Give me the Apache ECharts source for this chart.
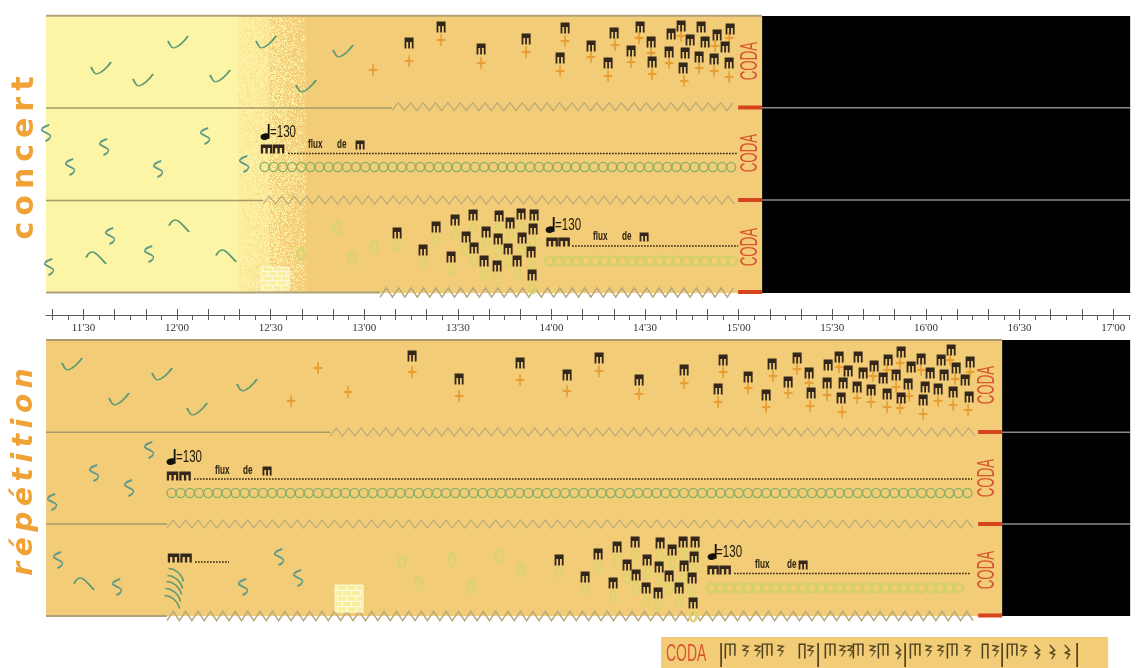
<!DOCTYPE html>
<html><head><meta charset="utf-8">
<style>html,body{margin:0;padding:0;background:#fff}#c{width:1142px;height:668px;filter:blur(0.5px)}</style>
<script src="https://cdn.jsdelivr.net/npm/echarts@6/dist/echarts.min.js"></script></head>
<body><div id="c"></div>
<script>
// x readings are score frames (1 frame = 1/3.12 s, frame 177 = 12'00); y readings are staff heights.
const sec = f => 720 + (f - 177) / 3.12;
const X_MIN = 678, X_MAX = 1025.4;

const majorTicks = [680,690,700,710,720,730,740,750,760,770,780,790,800,810,820,830,840,850,860,870,880,890,900,910,920,930,940,950,960,970,980,990,1000,1010,1020];
const minorTicks = [685,695,705,715,725,735,745,755,765,775,785,795,805,815,825,835,845,855,865,875,885,895,905,915,925,935,945,955,965,975,985,995,1005,1015,1025];
const tickLabels = [690,720,750,780,810,840,870,900,930,960,990,1020];

// concert
const concertChecks = [[178,42],[101,68],[143,80],[220,76],[266,42],[306,86],[343,51]];
const concertPlus = [[373,70],[409,61],[441,40],[481,63],[526,52],[565,41],[560,71],[591,57],[615,45],[608,76],[631,62],[639,38],[651,53],[652,74],[669,63],[681,36],[684,81],[699,68],[715,46],[714,71],[729,38],[729,77]];
const concertChords1 = [[409,43],[441,27],[481,49],[526,39],[565,28],[560,58],[591,46],[614,33],[608,63],[631,51],[640,27],[651,42],[652,62],[671,34],[669,52],[681,26],[690,40],[685,53],[683,68],[701,27],[705,42],[699,57],[717,35],[725,47],[714,59],[730,29],[729,63]];
const concertS2 = [[46,133],[104,147],[70,167],[205,136],[158,169],[244,164]];
const concertS3 = [[110,236],[149,254],[49,267]];
const concertArcs = [[179,226],[96,258],[226,256]];
const concertPale = [[301,254],[337,228],[352,258],[374,247]];
const concertChords3 = [[397,233],[436,227],[423,250],[455,220],[451,257],[473,215],[466,237],[474,248],[486,232],[484,261],[499,216],[498,239],[497,266],[510,223],[508,249],[517,261],[522,238],[521,214],[534,215],[533,229],[531,252],[532,275]];

// répétition
const repChecks = [[72,364],[119,399],[162,374],[197,409],[247,385]];
const repPlus = [[318,368],[291,401],[348,392],[412,372],[459,396],[520,380],[567,391],[599,371],[639,394],[684,383],[723,372],[718,402],[748,388],[773,376],[766,407],[797,369],[788,393],[809,383],[810,406],[827,395],[839,367],[842,412],[857,398],[873,376],[871,402],[887,370],[896,387],[887,407],[900,363],[900,408],[909,396],[921,370],[923,414],[938,401],[950,360],[955,379],[953,405],[970,372],[968,410]];
const repChords1 = [[412,356],[459,379],[520,363],[567,375],[599,358],[639,380],[684,370],[723,360],[718,389],[748,377],[772,364],[766,395],[797,358],[788,382],[809,373],[811,393],[828,365],[827,383],[839,357],[848,371],[843,383],[841,398],[858,357],[863,373],[857,387],[874,366],[871,390],[883,378],[888,360],[896,375],[887,394],[901,352],[901,398],[911,367],[908,384],[921,359],[930,373],[925,387],[923,400],[941,360],[944,375],[938,389],[951,350],[956,368],[965,380],[953,392],[970,362],[969,397]];
const repS2 = [[149,450],[94,473],[129,488],[52,502]];
const repS3 = [[58,560],[117,587],[243,587],[279,557],[298,578]];
const repArcs = [[84,584]];
const repArcStack = [[176,575],[175,582],[174,588],[173,595],[172,602]];
const repPale = [[402,562],[452,560],[499,556],[521,570],[419,583],[471,587]];
const repChords3 = [[559,560],[585,577],[598,554],[613,583],[617,547],[627,565],[635,542],[636,575],[647,560],[646,588],[658,593],[660,543],[659,567],[672,550],[669,576],[679,588],[683,542],[684,566],[695,542],[694,557],[692,578],[693,603]];

// double groups, flux marks, tempo notes
const doubleGroups = [[266.5,149],[278.5,149],[552,242],[564,242],[172.5,476],[185,476],[713,570],[725,570],[173.5,558],[186,558]];
const fluxGroups = [[360,145],[644,237],[267,471],[803,565]];
const tempoNotes = [[265,132],[550,225],[171,457],[712,552]];

// coda figure
const codaBeams = [730,767,830,858,883,915,952,1012];
const codaPairs = [802,985];
const codaRests = [745,757,780,810,842,850,872,928,940,967,995,1023];
const codaLongRests = [898,1037,1052,1067];
const codaBars = [721,818,905,1002,1077];

// regions: from, to, top, bottom, colour
const regions = [
  [46,762,16,293,'#f3cc78'],
  [46,240,16,293,'#fdf5a6'],
  [762,1130,16,293,'#000000'],
  [46,1002,340,616,'#f3cc78'],
  [1002,1130,340,616,'#000000'],
  [661,1108,637,668,'#f3cc78']
];
const stippleRegion = [[238,306,17,292]];

// staff lines: from, to, y, colour, width
const staffLines = [
  [46,762,15.8,'#b3a57c',2],[46,392,108,'#a59a68',1.4],[46,263,200.5,'#a59a68',1.4],[46,380,292.5,'#aea27a',2],
  [762,1130,107.7,'#8a8a8a',1.5],[762,1130,200,'#8a8a8a',1.5],
  [46,1002,340,'#aa9c70',2],[46,330,432.3,'#a59a68',1.4],[46,167,524,'#a59a68',1.4],[46,167,616,'#aea27a',2],
  [1002,1130,432.3,'#8a8a8a',1.5],[1002,1130,524,'#8a8a8a',1.5]
];
const redBars = [[738,762,107.5],[738,762,200],[738,762,292],[978,1002,432],[978,1002,524],[978,1002,615.5]];
// zigzags: from, to, y, half height, colour, width
const zigzags = [
  [392,738,106.7,4,'#b8aa7c',1.2],[263,738,200,4,'#b8aa7c',1.2],[380,738,292.5,4.6,'#b8aa7c',1.6],
  [330,978,432,4,'#b8aa7c',1.2],[167,978,524,4,'#b8aa7c',1.2],[167,975,616,4.6,'#b8aa7c',1.6]
];
// ring chains: from, to, y, colour, width
const chains = [[260,740,167,'#86ae66',1.3],[167,974,493,'#86ae66',1.3],[545,738,261,'#d6d06a',3],[707,970,588,'#d6d06a',3]];
// dotted lines: from, to, y
const dotted = [[288,737,153.5],[572,738,246],[194,972,479],[195,229,562],[734,970,573.5]];
const bricks = [[261,267,289,290],[335,585,363,612]];
const T = '\u2009';
const texts = [
  [25,158,['c','o','n','c','e','r','t'].join(T),'title'],[25,472,['r','é','p','é','t','i','t','i','o','n'].join(T),'titleI'],
  [751,61,'CODA','coda'],[751,153,'CODA','coda'],[751,247,'CODA','coda'],
  [988,385,'CODA','coda'],[988,478,'CODA','coda'],[988,570,'CODA','coda'],
  [686,654,'CODA','codaH'],
  [270,133,'=130','tempo'],[555,226,'=130','tempo'],[176,458,'=130','tempo'],[716,553,'=130','tempo'],
  [308,145,'flux','flux'],[337,145,'de','flux'],
  [593,237,'flux','flux'],[622,237,'de','flux'],
  [215,471,'flux','flux'],[243,471,'de','flux'],
  [755,565,'flux','flux'],[787,565,'de','flux']
];

const SANS = '"Liberation Sans"';
const fonts = {
  title:{font:'bold 30px "DejaVu Sans"',fill:'#f0a236',rot:Math.PI/2,align:'center'},
  titleI:{font:'italic bold 28px "DejaVu Sans"',fill:'#f0a236',rot:Math.PI/2,align:'center'},
  coda:{font:'23px '+SANS,fill:'#d9562c',rot:Math.PI/2,align:'center',sx:0.58},
  codaH:{font:'24px '+SANS,fill:'#d9562c',rot:0,align:'center',sx:0.58},
  tempo:{font:'16px '+SANS,fill:'#1e1608',rot:0,align:'left',sx:0.72},
  flux:{font:'bold 12px '+SANS,fill:'#2c2210',rot:0,align:'left',sx:0.68}
};

const PATHS = {
  check:'path://M0 4C2 8 4 10 6 10C10 9 16 5 20 0',
  s:'path://M7 0C4 1 1 3 1 5C2 7 8 9 8 11C8 13 6 15 4 16',
  arc:'path://M0 6C2 2 5 0 8 1C12 3 17 9 20 12',
  stackArc:'path://M0 0C5 0 12 4 14 12',
  plus:'path://M3.200 0H4.800L5 4.800L9 5.200V6.800L5 7.200L4.800 12H3.200L3 7.200L-1 6.800V5.200L3 4.800Z',
  chord:'path://M0 0H8V4H0ZM0 4H1.600V10H0ZM3.200 4H4.800V10H3.200ZM6.400 4H8V10H6.400Z',
  note:'path://M6 0H7.500V13H6ZM0 11C0 9 3 8 5 8C7 8 7.500 9.500 7.500 11C7.500 13 5 14 3 14C1 14 0 13 0 11Z',
  ring:'path://M5 0C8 0 9 4 9 7C9 10 7 13 5 13C3 13 1 10 1 7C1 4 2 0 5 0ZM5 3C4 3 3.500 5 3.500 7C3.500 9 4 10.500 5 10.500C6 10.500 6.500 9 6.500 7C6.500 5 6 3 5 3Z',
  beam:'path://M0 0H11V1.500H0ZM0 1.500H1.500V17H0ZM4.800 1.500H6.200V14H4.800ZM9.500 1.500H11V14H9.500Z',
  pair:'path://M0 0H7V1.500H0ZM0 1.500H1.500V15H0ZM5.500 1.500H7V15H5.500Z',
  rest:'path://M1 1L6 2L2 6L6 7L3 13',
  longRest:'path://M0 0L5 6L1 9L5 11L2 16'
};

function glyphs(name, rows, path, size, style, z, offset){
  return {type:'scatter',name,silent:true,z:z||5,data:rows.map(r=>[sec(r[0]),r[1]]),symbol:path,symbolSize:size,
    symbolOffset:offset||[0,0],itemStyle:Object.assign({opacity:1},style)};
}
const line = (c,w) => ({color:'transparent',borderColor:c,borderWidth:w});
const fill = c => ({color:c});

function custom(name, rows, render, z){
  return {type:'custom',name,silent:true,z:z||3,data:rows.map((_,i)=>[i]),
    renderItem:(p,api)=>render(rows[p.dataIndex],api)};
}
const pt = (api,f,y) => api.coord([sec(f),y]);

// stipple texture (paper grain, not data)
const tex = document.createElement('canvas'); tex.width=1142; tex.height=668;
(function(){
  const g=tex.getContext('2d');
  const grain=(x,y)=>{const v=Math.sin(x*12.9898+y*78.233)*43758.5453;return v-Math.floor(v);};
  for(let y=16;y<294;y++)for(let x=236;x<308;x++){
    const t=(x-238)/68, h=grain(x,y);
    g.fillStyle = h>t*0.78+0.08 ? (h>0.93?'#fdf6b4':'#fcefa0') : (t<0.45?'#f8e08e':'#f3cf7c');
    g.fillRect(x,y,1,1);
  }
})();

const series = [
  custom('regions',regions,(r,api)=>{const a=pt(api,r[0],r[2]),b=pt(api,r[1],r[3]);
    return {type:'rect',shape:{x:a[0],y:a[1],width:b[0]-a[0],height:b[1]-a[1]},style:{fill:r[4]}};},1),
  custom('stipple',stippleRegion,(r,api)=>{const a=pt(api,r[0],r[2]),b=pt(api,r[1],r[3]);
    return {type:'rect',shape:{x:a[0],y:a[1],width:b[0]-a[0],height:b[1]-a[1]},style:{fill:{image:tex,repeat:'no-repeat'}}};},2),
  custom('staff',staffLines,(r,api)=>{const a=pt(api,r[0],r[2]),b=pt(api,r[1],r[2]);
    return {type:'line',shape:{x1:a[0],y1:a[1],x2:b[0],y2:b[1]},style:{stroke:r[3],lineWidth:r[4]}};},3),
  custom('red',redBars,(r,api)=>{const a=pt(api,r[0],r[2]),b=pt(api,r[1],r[2]);
    return {type:'line',shape:{x1:a[0],y1:a[1],x2:b[0],y2:b[1]},style:{stroke:'#d8431f',lineWidth:4}};},4),
  custom('zigzag',zigzags,(r,api)=>{const a=pt(api,r[0],r[2]),b=pt(api,r[1],r[2]),pts=[];
    const step=6.2;let i=0;for(let x=a[0];x<=b[0];x+=step,i++)pts.push([x,a[1]+(i%2?-r[3]:r[3])]);
    return {type:'polyline',shape:{points:pts},style:{fill:'none',stroke:r[4],lineWidth:r[5]}};},3),
  custom('chain',chains,(r,api)=>{const a=pt(api,r[0],r[2]),b=pt(api,r[1],r[2]),ch=[];
    for(let x=a[0]+4.5;x<=b[0]-3;x+=9.15)ch.push({type:'ellipse',shape:{cx:x,cy:a[1],rx:4.4,ry:4.6},style:{fill:'none',stroke:r[3],lineWidth:r[4]}});
    return {type:'group',children:ch};},3),
  custom('dotted',dotted,(r,api)=>{const a=pt(api,r[0],r[2]),b=pt(api,r[1],r[2]);
    return {type:'line',shape:{x1:a[0],y1:a[1],x2:b[0],y2:b[1]},style:{stroke:'#2c2008',lineWidth:1.4,lineDash:[1.6,1.4]}};},4),
  custom('bricks',bricks,(r,api)=>{const a=pt(api,r[0],r[1]),b=pt(api,r[2],r[3]),w=b[0]-a[0],h=b[1]-a[1],ch=[];
    ch.push({type:'rect',shape:{x:a[0],y:a[1],width:w,height:h},style:{fill:'#f8ef9e',stroke:'#fdf9d8',lineWidth:1}});
    for(let i=1;i<5;i++){const y=a[1]+h*i/5;
      ch.push({type:'line',shape:{x1:a[0],y1:y,x2:b[0],y2:y},style:{stroke:'#fffbe6',lineWidth:1}});}
    for(let i=0;i<5;i++)for(let j=(i%2?1:0);j<6;j+=2){const x=a[0]+w*(j+0.5)/6,y=a[1]+h*i/5;
      ch.push({type:'line',shape:{x1:x,y1:y,x2:x,y2:y+h/5},style:{stroke:'#fffbe6',lineWidth:1}});}
    return {type:'group',children:ch};},3),
  custom('codaBars',codaBars,(f,api)=>{const a=pt(api,f,643),b=pt(api,f,667);
    return {type:'line',shape:{x1:a[0],y1:a[1],x2:b[0],y2:b[1]},style:{stroke:'#4a3a1a',lineWidth:1.6}};},5),
  custom('texts',texts,(r,api)=>{const a=pt(api,r[0],r[1]),s=fonts[r[3]];
    return {type:'text',x:a[0],y:a[1],rotation:s.rot,scaleX:s.sx||1,style:{text:r[2],font:s.font,fill:s.fill,align:s.align,verticalAlign:'middle'}};},6),

  glyphs('concert checks',concertChecks,PATHS.check,[20,12],line('#5a9a74',1.6)),
  glyphs('concert s2',concertS2,PATHS.s,[9,16],line('#5f9a88',1.7)),
  glyphs('concert s3',concertS3,PATHS.s,[9,16],line('#5f9a88',1.7)),
  glyphs('concert arcs',concertArcs,PATHS.arc,[20,12],line('#5a9a74',1.6)),
  glyphs('concert pale',concertPale,PATHS.ring,[10,15],fill('#dcd36e')),
  glyphs('concert plus',concertPlus,PATHS.plus,[9,12],fill('#e99e32')),
  glyphs('concert chord rings',concertChords3,PATHS.ring,[9,13],fill('#e0d36e'),4,[0,13]),
  glyphs('concert chords 1',concertChords1,PATHS.chord,[9,11],fill('#33261a'),6),
  glyphs('concert chords 3',concertChords3,PATHS.chord,[9,11],fill('#33261a'),6),

  glyphs('rep checks',repChecks,PATHS.check,[20,12],line('#5a9a74',1.6)),
  glyphs('rep s2',repS2,PATHS.s,[9,16],line('#5f9a88',1.7)),
  glyphs('rep s3',repS3,PATHS.s,[9,16],line('#5f9a88',1.7)),
  glyphs('rep arcs',repArcs,PATHS.arc,[20,12],line('#5a9a74',1.6)),
  glyphs('rep arc stack',repArcStack,PATHS.stackArc,[15,13],line('#5a9a74',1.5)),
  glyphs('rep pale',repPale,PATHS.ring,[10,15],fill('#dcd36e')),
  glyphs('rep plus',repPlus,PATHS.plus,[9,12],fill('#e99e32')),
  glyphs('rep chord rings',repChords3,PATHS.ring,[9,13],fill('#e0d36e'),4,[0,13]),
  glyphs('rep chords 1',repChords1,PATHS.chord,[9,11],fill('#33261a'),6),
  glyphs('rep chords 3',repChords3,PATHS.chord,[9,11],fill('#33261a'),6),

  glyphs('double groups',doubleGroups,PATHS.chord,[11.500,9],fill('#33261a'),6),
  glyphs('flux groups',fluxGroups,PATHS.chord,[9,9],fill('#33261a'),6),
  glyphs('tempo notes',tempoNotes,PATHS.note,[9,16],fill('#14100a'),6),

  glyphs('coda beams',codaBeams.map(f=>[f,651]),PATHS.beam,[11,15],fill('#4a3f1c'),6),
  glyphs('coda pairs',codaPairs.map(f=>[f,651]),PATHS.pair,[7,15],fill('#4a3f1c'),6),
  glyphs('coda rests',codaRests.map(f=>[f,651]),PATHS.rest,[6,11],line('#5a4d24',1.2),6),
  glyphs('coda long rests',codaLongRests.map(f=>[f,652]),PATHS.longRest,[5,14],line('#5a4d24',1.2),6)
];

const fmt = v => Math.floor(v/60)+"'"+String(v%60).padStart(2,'0');
const axisStyle = {lineStyle:{color:'#5c5c5c',width:1}};
const chart = echarts.init(document.getElementById('c'),null,{renderer:'canvas'});
chart.setOption({
  animation:false,backgroundColor:'#ffffff',
  tooltip:{show:false},legend:{show:false},
  grid:{left:46,right:12,top:0,bottom:0},
  xAxis:[
    {type:'value',position:'bottom',offset:-353,min:X_MIN,max:X_MAX,splitLine:{show:false},z:8,
     axisLine:{show:true,onZero:false,...axisStyle},
     axisTick:{show:true,length:5,customValues:majorTicks.concat(minorTicks).sort((a,b)=>a-b),...axisStyle},
     axisLabel:{show:true,customValues:tickLabels,formatter:fmt,margin:8,fontSize:11,color:'#333',
       fontFamily:'"Liberation Serif"',hideOverlap:false,showMinLabel:true,showMaxLabel:true}},
    {type:'value',position:'top',offset:-315,min:X_MIN,max:X_MAX,splitLine:{show:false},z:8,
     axisLine:{show:false,onZero:false},
     axisTick:{show:true,length:6,customValues:majorTicks,...axisStyle},
     axisLabel:{show:false}}
  ],
  yAxis:{type:'value',inverse:true,min:0,max:668,show:false,splitLine:{show:false}},
  series:series
});
</script></body></html>
